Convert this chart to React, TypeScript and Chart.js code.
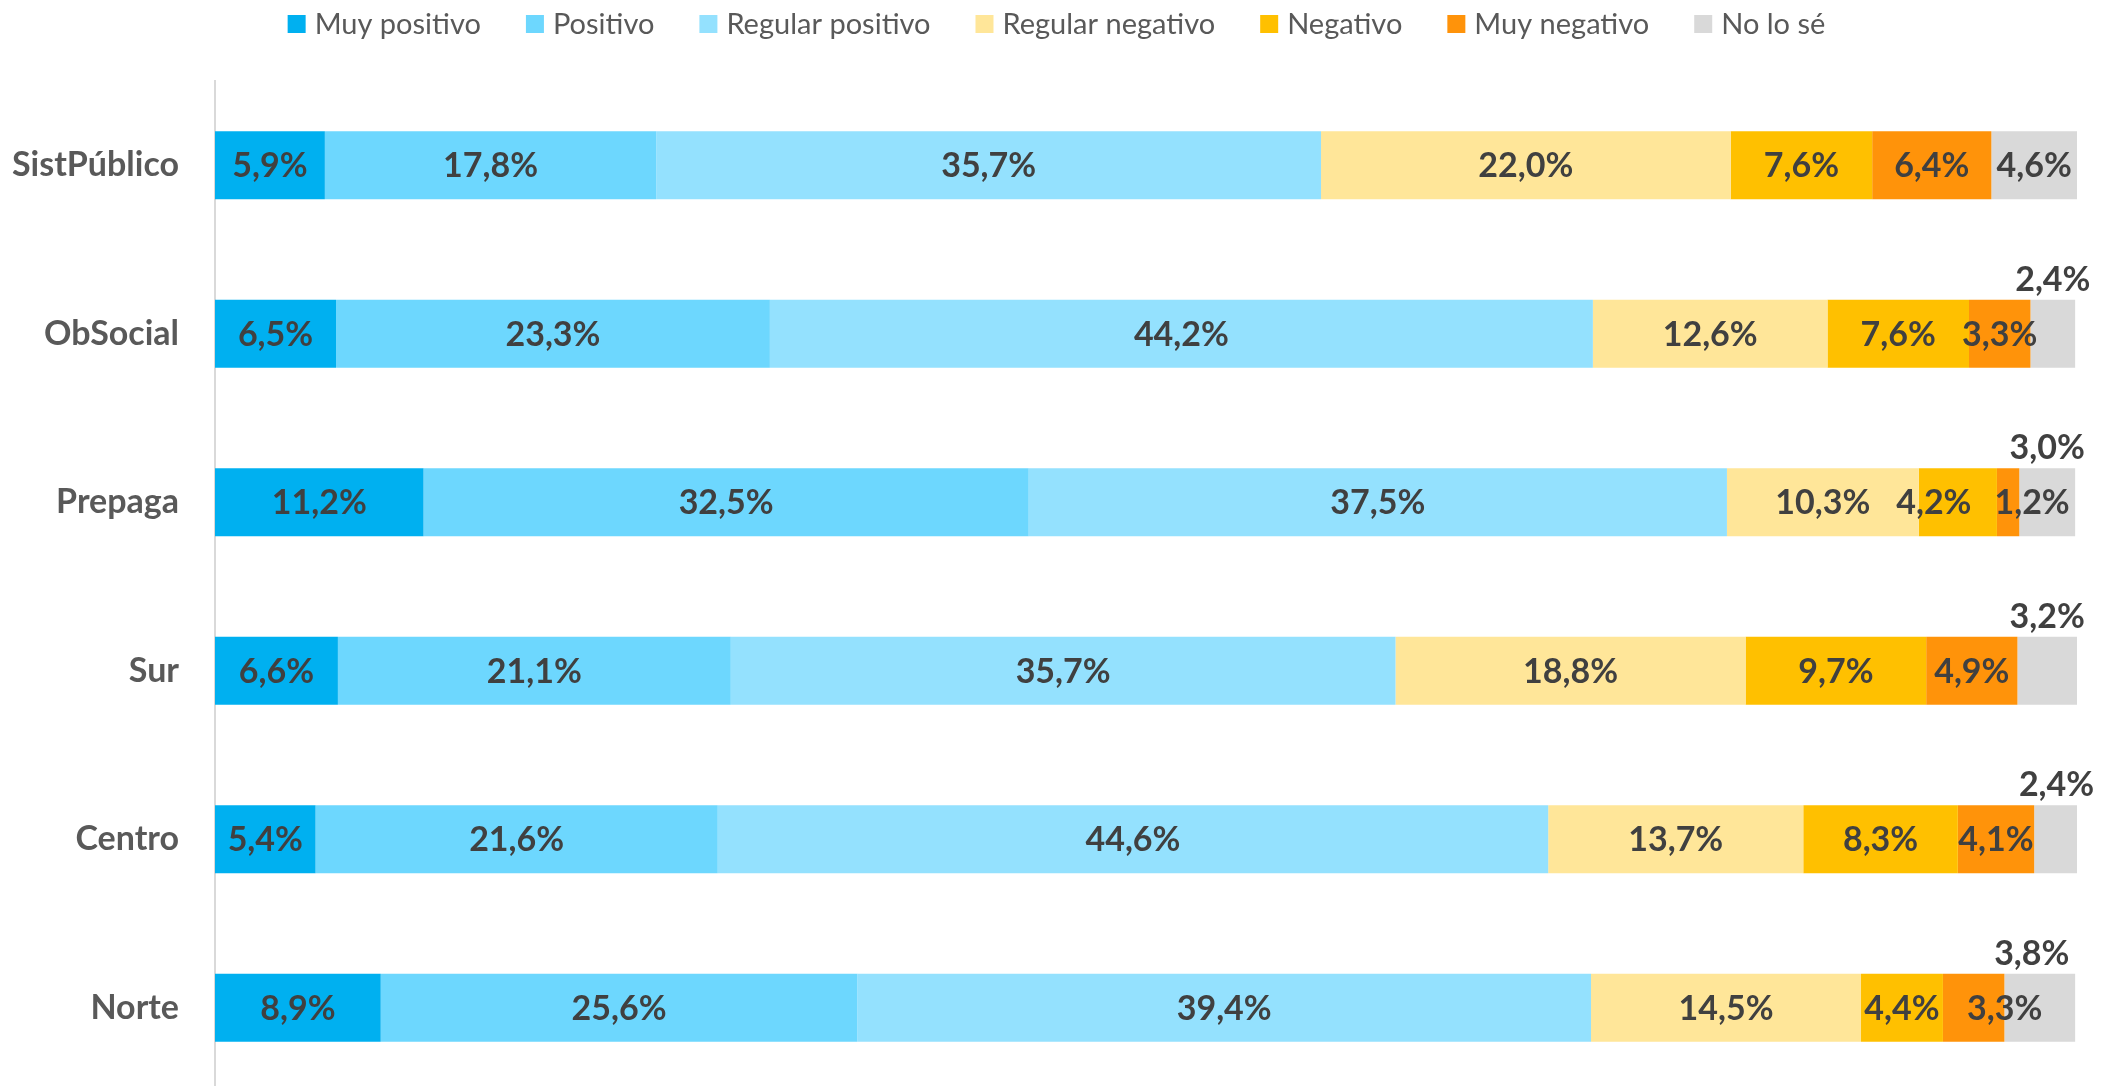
import React, { useEffect, useRef } from 'react';
import { Chart, registerables } from 'chart.js';

Chart.register(...registerables);

const categories = ['SistPúblico', 'ObSocial', 'Prepaga', 'Sur', 'Centro', 'Norte'];

const muyPositivo = [5.9, 6.5, 11.2, 6.6, 5.4, 8.9];
const positivo = [17.8, 23.3, 32.5, 21.1, 21.6, 25.6];
const regularPositivo = [35.7, 44.2, 37.5, 35.7, 44.6, 39.4];
const regularNegativo = [22.0, 12.6, 10.3, 18.8, 13.7, 14.5];
const negativo = [7.6, 7.6, 4.2, 9.7, 8.3, 4.4];
const muyNegativo = [6.4, 3.3, 1.2, 4.9, 4.1, 3.3];
const noLoSe = [4.6, 2.4, 3.0, 3.2, 2.4, 3.8];

const seriesLabels = ['Muy positivo', 'Positivo', 'Regular positivo', 'Regular negativo', 'Negativo', 'Muy negativo', 'No lo sé'];
const seriesValues = [muyPositivo, positivo, regularPositivo, regularNegativo, negativo, muyNegativo, noLoSe];
const seriesColors = ['#00B0F0', '#6DD7FE', '#94E1FE', '#FFE699', '#FFC000', '#FF930A', '#D9D9D9'];

// small horizontal nudges of a few data labels, as in the original
const labelNudges: Record<string, number> = {
  'Prepaga|Negativo': -24,
  'Prepaga|Muy negativo': 24,
  'Norte|Muy negativo': 31,
  'Norte|No lo sé': -8,
};

const fmt = (v: number) => v.toFixed(1).replace('.', ',') + '%';

const legendPlugin = {
  id: 'customLegend',
  afterDraw(chart: any) {
    const ctx = chart.ctx;
    ctx.save();
    ctx.font = '29px Lato';
    const box = 18;
    const gapText = 9;
    const gapItem = 45;
    const items = chart.data.datasets.map((d: any) => ({
      text: d.label,
      color: d.backgroundColor,
      w: ctx.measureText(d.label).width,
    }));
    const total = items.reduce((s: number, it: any) => s + box + gapText + it.w, 0) + gapItem * (items.length - 1);
    let x = (chart.width - total) / 2 - 4;
    const cy = 24;
    items.forEach((it: any) => {
      ctx.fillStyle = it.color;
      ctx.fillRect(x, cy - box / 2, box, box);
      ctx.fillStyle = '#595959';
      ctx.textBaseline = 'middle';
      ctx.textAlign = 'left';
      ctx.fillText(it.text, x + box + gapText, cy + 1);
      x += box + gapText + it.w + gapItem;
    });
    ctx.restore();
  },
};

const dataLabelPlugin = {
  id: 'segmentLabels',
  afterDatasetsDraw(chart: any) {
    const ctx = chart.ctx;
    ctx.save();
    ctx.font = 'bold 34px Lato';
    ctx.fillStyle = '#404040';
    ctx.textAlign = 'center';
    const n = chart.data.datasets.length;
    chart.data.datasets.forEach((ds: any, i: number) => {
      const meta = chart.getDatasetMeta(i);
      meta.data.forEach((el: any, j: number) => {
        const v = ds.data[j];
        const { x, y, base, height } = el.getProps(['x', 'y', 'base', 'height'], true);
        const text = fmt(v);
        const w = ctx.measureText(text).width;
        const segW = Math.abs(x - base);
        const key = chart.data.labels[j] + '|' + ds.label;
        const cx = (x + base) / 2 + (labelNudges[key] || 0);
        if (i === n - 1 && segW < w) {
          ctx.textBaseline = 'alphabetic';
          ctx.fillText(text, cx, y - height / 2 - 9);
        } else {
          ctx.textBaseline = 'middle';
          ctx.fillText(text, cx, y + 1);
        }
      });
    });
    ctx.restore();
  },
};

export default function App() {
  const ref = useRef<HTMLCanvasElement | null>(null);

  useEffect(() => {
    if (!ref.current) return;
    const chart = new Chart(ref.current, {
      type: 'bar',
      data: {
        labels: categories,
        datasets: seriesLabels.map((label, i) => ({
          label,
          data: seriesValues[i],
          backgroundColor: seriesColors[i],
          borderWidth: 0,
          barPercentage: 0.404,
          categoryPercentage: 1,
        })),
      },
      options: {
        indexAxis: 'y',
        animation: false,
        responsive: false,
        maintainAspectRatio: false,
        layout: { padding: { top: 81, right: 44, bottom: 0, left: 0 } },
        plugins: {
          legend: { display: false },
          tooltip: { enabled: false },
        },
        scales: {
          x: { stacked: true, min: 0, max: 100, display: false },
          y: {
            stacked: true,
            grid: { display: false, drawTicks: false },
            border: { display: true, color: '#D9D9D9', width: 2 },
            ticks: {
              padding: 36,
              color: '#595959',
              font: { family: 'Lato', size: 34, weight: 'bold' },
            },
            afterFit: (s: any) => {
              s.width = 215;
              s.paddingTop = 0;
              s.paddingBottom = 0;
            },
          },
        },
      } as any,
      plugins: [legendPlugin, dataLabelPlugin],
    });
    return () => chart.destroy();
  }, []);

  return (
    <div style={{ position: 'fixed', left: 0, top: 0, width: 2121, height: 1086, overflow: 'hidden', background: '#fff' }}>
      <canvas ref={ref} width={2121} height={1092} style={{ display: 'block' }} />
    </div>
  );
}
